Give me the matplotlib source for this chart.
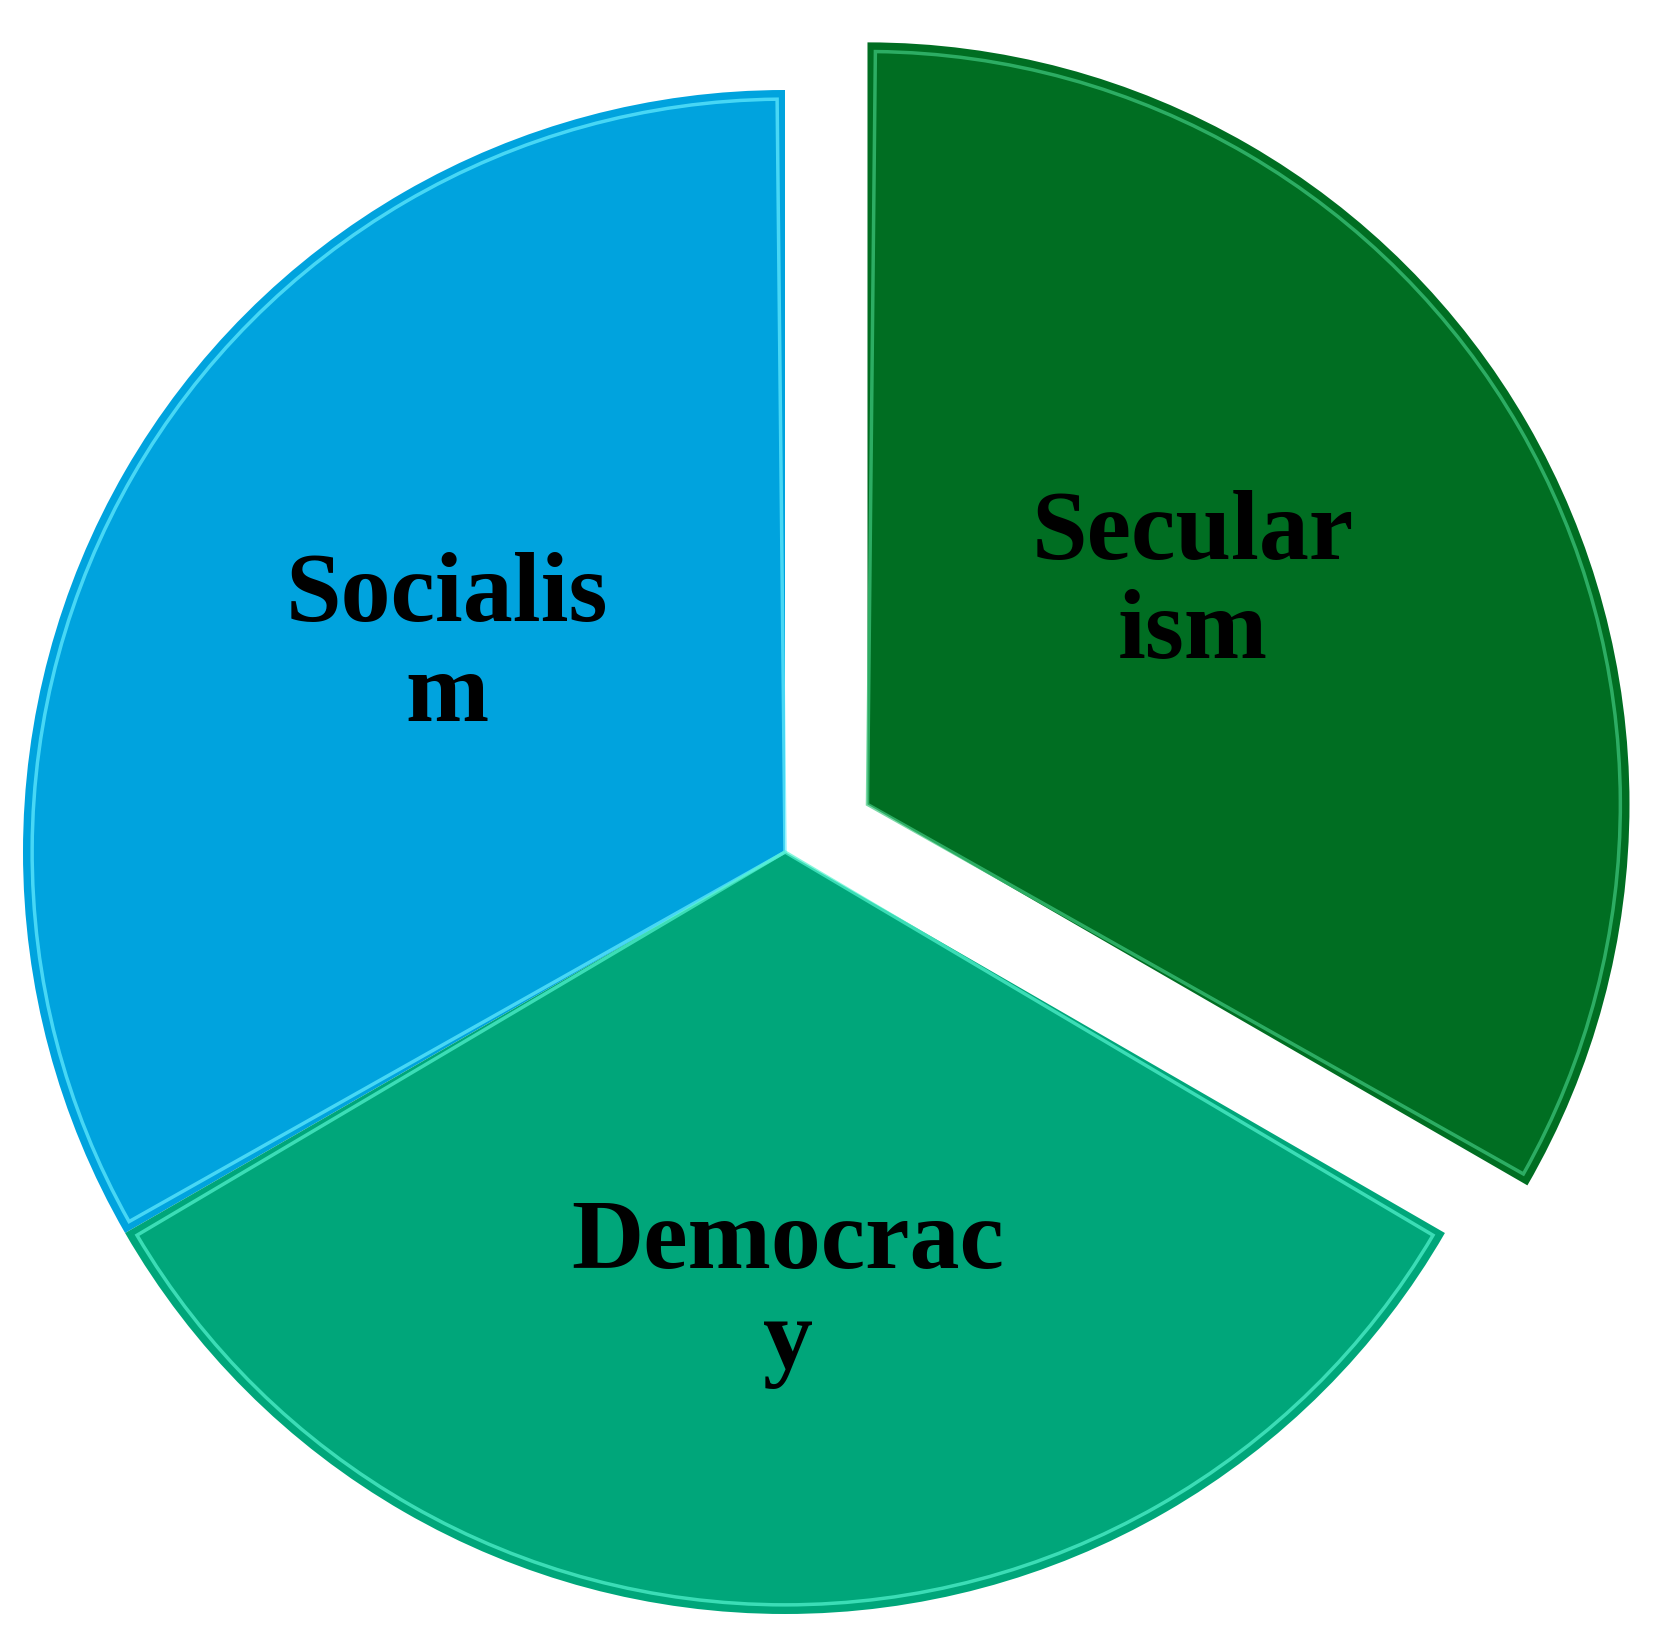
import matplotlib.pyplot as plt
from matplotlib.patches import Wedge

# Data
labels = ['Socialis\nm', 'Democrac\ny', 'Secular\nism']
shares = [1, 1, 1]
colors = ['#00A3DE', '#00A67A', '#006E22']
edge_colors = ['#66EEFF', '#55F5D0', '#40C880']
explode = [0, 0, 0.125]
# label centres in data units (pie radius = 1, centre at 0,0)
label_pos = [(-0.444, 0.269), (0.004, -0.580), (0.535, 0.351)]

fig = plt.figure(figsize=(16.59, 16.50), dpi=100)
ax = fig.add_axes([0, 0, 1, 1])

wedges, _ = ax.pie(shares, colors=colors, explode=explode,
                   startangle=90, counterclock=True,
                   wedgeprops={'linewidth': 0})

# simple bevel: light inset outline on each wedge
for w, ec in zip(wedges, edge_colors):
    inset = Wedge(w.center, w.r - 0.012, w.theta1 + 0.6, w.theta2 - 0.6,
                  facecolor='none', edgecolor=ec, linewidth=2.5, alpha=0.7)
    ax.add_patch(inset)

for lab, (x, y) in zip(labels, label_pos):
    ax.text(x, y, lab, ha='center', va='center', multialignment='center',
            fontsize=72, fontweight='bold', family='Liberation Serif',
            color='black', linespacing=1.14)

# pixel mapping: centre at (785, 852) px from top-left, radius 762 px
ax.set_xlim(-785 / 762, (1659 - 785) / 762)
ax.set_ylim(-(1650 - 852) / 762, 852 / 762)
ax.set_aspect('equal')
ax.axis('off')

fig.savefig('out.png', dpi=100, facecolor='white')
